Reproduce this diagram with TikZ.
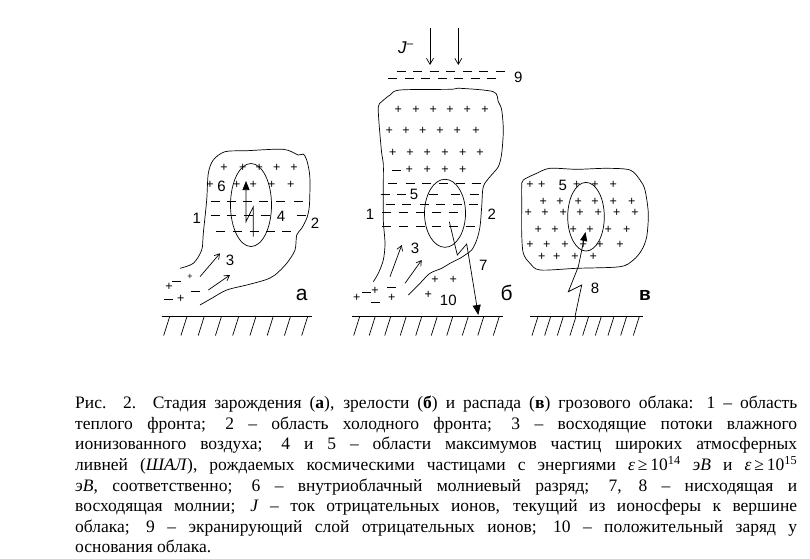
\documentclass[tikz,border=0pt]{standalone}
\usepackage{fontspec}
\setmainfont{Liberation Serif}
\newfontfamily\lsans{Liberation Sans}
\usetikzlibrary{arrows.meta}
\newcommand\sgfont{\lsans\fontsize{12.5}{12.5}\selectfont}
\newcommand\lbfont{\lsans\fontsize{15}{15}\selectfont}
\newcommand\ltfont{\lsans\fontsize{21}{21}\selectfont}
\tikzset{
 sg/.style={font=\sgfont,inner sep=0},
 lb/.style={font=\lbfont,inner sep=0},
 lt/.style={font=\ltfont,inner sep=0},
 cl/.style={line width=0.7pt},
 ln/.style={line width=0.7pt},
}
\newcommand\PL[1]{\foreach \px/\py in {#1} \node[sg] at (\px,\py) {+};}
\newcommand\MN[1]{\foreach \px/\py in {#1} \draw[line width=0.8pt] (\px-4.5,\py) -- (\px+4.5,\py);}
\newcommand\GROUND[3]{\draw[ln] (#1,316.5) -- (#2,316.5);
 \foreach \k in {0,...,#3} \draw[ln] ({#1+8+\k*((#2-#1-12)/#3)},316.5) -- ++(-6,19);}
\begin{document}
\begin{tikzpicture}[x=1pt,y=-1pt]
\useasboundingbox (0,0) rectangle (810,558);
% ---------- cloud a ----------
\draw[cl] plot[smooth,tension=0.5] coordinates {(180,268.3) (193.3,263.3) (201.7,250) (203.3,233.3) (206.7,200) (208.3,173.3) (213.3,160) (225,151.7) (246.7,150.7) (283.3,149.3) (298.3,155) (303.3,154) (306.7,160) (309.3,171.7) (310,183.3) (309.3,206.7) (306.7,218.3) (301.7,228.3) (296.7,235) (295,250) (286.7,263.3) (275,275) (265,280) (246.7,285) (226.7,290) (211.7,298.3) (200,305)};
\draw[cl] (251,205) ellipse [x radius=20.5, y radius=41.5];
\PL{224/168,242.7/168,259.3/168,276.7/168,294/168,210/185,236.7/185,253.3/185,271.7/185,290.7/185}
\MN{215/201,231/201,247.3/201,263.3/201,280/201,298.3/201,215/215.7,231/215.7,248/215.7,265/215.7,301.7/215.7,220.7/231.7,237.3/231.7,254/231.7,270.7/231.7,286.7/231.7}
\node[lb] (n6) at (221.5,186) {6};
\node[lb] (n4) at (281,216) {4};
\node[lb] (n1a) at (196.7,218.3) {1};
\node[lb] (n2a) at (315,223.3) {2};
\node[lb] (n3a) at (230,260) {3};
\node[lt] (na) at (301.7,295) {а};
\draw[ln,-{Triangle[length=9pt,width=7pt]}] (253.3,236.7) -- (253.3,206.7) -- (246,221.7) -- (246,181);
\draw[ln,-{Straight Barb[length=5pt,width=6pt]}] (200,276.7) -- (220,253.3);
\draw[ln,-{Straight Barb[length=5pt,width=6pt]}] (208.3,290) -- (230,275);
\PL{169/286.7,180.7/299.3}
\MN{176.7/281.7,195/291.7,168.3/299.3}
\node[sg,font=\lsans\fontsize{9}{9}\selectfont] at (190,276.7) {+};
\GROUND{161.7}{311.7}{8}
% ---------- cloud b ----------
\draw[cl] plot[smooth,tension=0.5] coordinates {(373.3,281.7) (378.3,273.3) (383.3,260) (385,243.3) (383.3,220) (383.3,186.7) (383.3,163.3) (381.7,153.3) (379.3,126.7) (378.3,106.7) (381.7,101.7) (390,95) (400,90) (450,89.3) (460,88.3) (493.3,91.7) (498.3,101.7) (501.7,110) (503.3,130) (501.7,153.3) (498.3,166.7) (490,176.7) (483.3,186.7) (481.7,206.7) (480,226.7) (476.7,240) (471.7,250) (465,255) (460,258.3) (450,263.3) (441.7,268.3) (430,273.3) (420,283.3) (408.3,295)};
\draw[cl] (445,213.3) ellipse [x radius=20.5, y radius=34];
\PL{398.3/110,416/110,433.3/110,450/110,467.3/110,485/110,389.3/131,406/131,422.7/131,440/131,457.3/131,476/131,392.7/152.7,410/152.7,427.3/152.7,445/152.7,462.7/152.7,480/152.7,409.3/170,427.3/170,445/170,462.7/170}
\MN{396/170,392.7/183.3,410/183.3,426.7/183.3,443.3/183.3,460/183.3,476/183.3,385/194,401.7/194,433/194,455/194,474/194,390/204.3,406.7/204.3,424/204.3,440/204.3,457.3/204.3,473.3/204.3,386.7/212.7,403.3/212.7,420/212.7,436.7/212.7,453.3/212.7,386.7/226.7,403.3/226.7,420/226.7,436.7/226.7,453.3/226.7,470/226.7}
\node[lb] (n5b) at (414,194) {5};
\node[lb] (n1b) at (370,214) {1};
\node[lb] (n2b) at (491.7,214) {2};
\node[lb] (n3b) at (415,248.3) {3};
\node[lb] (n7) at (483.3,265) {7};
\node[lb] (n10) at (448.3,300) {10};
\node[lt] (nb) at (506.7,293.3) {б};
\draw[ln,-{Triangle[length=10pt,width=8pt]}] (449.3,221.7) -- (457.3,255) -- (466.7,244) -- (478.3,315);
\draw[ln,-{Straight Barb[length=5pt,width=6pt]}] (390,276.7) -- (401.7,245);
\draw[ln,-{Straight Barb[length=5pt,width=6pt]}] (405,283.3) -- (421.7,260);
\PL{356.7/298.3,375/290.7,391.7/298.3,435/280,453.3/280,428.3/295}
\MN{366.7/292.7,391.7/287.3,375/302.7}
% J and layer 9
\node[lb,font=\lsans\itshape\fontsize{17}{17}\selectfont] (nJ) at (406,48) {J\textsuperscript{–}};
\coordinate (ja1) at (430,28); \coordinate (jb1) at (430,65);
\coordinate (ja2) at (458.3,28); \coordinate (jb2) at (458.3,65);
\draw[ln,-{Straight Barb[length=6pt,width=7pt]}] (ja1) -- (jb1);
\draw[ln,-{Straight Barb[length=6pt,width=7pt]}] (ja2) -- (jb2);
\draw[line width=0.8pt,dash pattern=on 9pt off 7.5pt] (396.7,71.7) -- (505,71.7);
\draw[line width=0.8pt,dash pattern=on 9pt off 7.5pt] (388.3,78.3) -- (500,78.3);
\node[lb] (n9) at (518.3,77.3) {9};
\GROUND{351.7}{503.3}{9}
% ---------- cloud v ----------
\draw[cl] plot[smooth cycle,tension=0.5] coordinates {(523.3,180) (536.7,173.3) (550,168.3) (576.7,169.3) (606.7,168.3) (630,170) (640,180) (645,190) (648.3,213.3) (646.7,236.7) (641.7,250) (633.3,260) (620,266.7) (576.7,268.3) (540,270) (530,263.3) (523.3,253.3) (521.7,233.3) (521.7,203.3) (521.7,186.7)};
\draw[cl] (586,216.7) ellipse [x radius=18.3, y radius=34.3];
\PL{530/185,541.7/185,576.7/185,595/185,613.3/185,543.3/201.7,560/201.7,578.3/201.7,595/201.7,613.3/201.7,631.7/201.7,528.3/213.3,545/213.3,563.3/213.3,580/213.3,598.3/213.3,616.7/213.3,635/213.3,538.3/230,555/230,573.3/230,590/230,608.3/230,626.7/230,530/245,546.7/245,565/245,583.3/245,600/245,620/245,541.7/256.7,556.7/256.7,575/256.7,593.3/256.7}
\node[lb] (n5v) at (562.7,185) {5};
\node[lb] (n8) at (595,288.3) {8};
\node[lt,font=\lsans\bfseries\fontsize{19}{19}\selectfont] (nv) at (645,295) {в};
\coordinate (g8) at (575,316.5);
\draw[ln,-{Triangle[length=9pt,width=7pt]}] (g8) -- (581.7,285) -- (568.3,291.7) -- (578.3,266.7) -- (585.5,232);
\GROUND{530}{643.3}{8}
% ---------- caption ----------
\node[anchor=north west,inner sep=0,text width=722pt,align=justify] (cap) at (75,396) {\fontsize{17.5}{20.6}\selectfont Рис. 2. Стадия зарождения (\textbf{а}), зрелости (\textbf{б}) и распада (\textbf{в}) грозового облака: 1 – область\linebreak
теплого фронта; 2 – область холодного фронта; 3 – восходящие потоки влажного\linebreak
ионизованного воздуха; 4 и 5 – области максимумов частиц широких атмосферных\linebreak
ливней (\textit{ШАЛ}), рождаемых космическими частицами с энергиями \textit{ε}\,≥\,10\textsuperscript{14} \textit{эВ} и \textit{ε}\,≥\,10\textsuperscript{15}\linebreak
\textit{эВ}, соответственно; 6 – внутриоблачный молниевый разряд; 7, 8 – нисходящая и\linebreak
восходящая молнии; \textit{J} – ток отрицательных ионов, текущий из ионосферы к вершине\linebreak
облака; 9 – экранирующий слой отрицательных ионов; 10 – положительный заряд у\linebreak
основания облака.\par};
\end{tikzpicture}
\end{document}
